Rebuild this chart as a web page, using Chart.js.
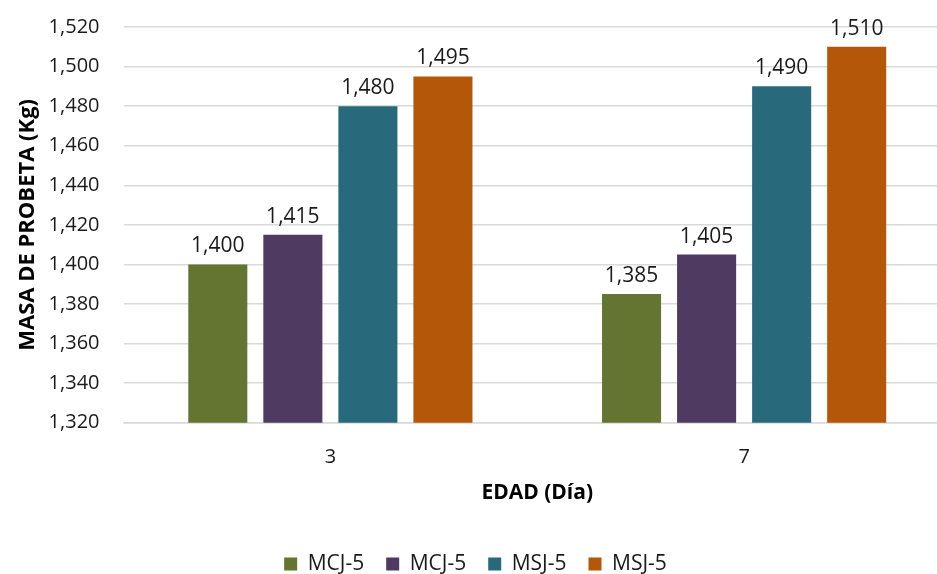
<!DOCTYPE html>
<html>
<head>
<meta charset="utf-8">
<script src="https://cdn.jsdelivr.net/npm/chart.js@4/dist/chart.umd.min.js"></script>
<style>
  html, body { margin: 0; padding: 0; background: #fff; overflow: hidden; }
  #wrap { position: relative; width: 952px; height: 574px; }
</style>
</head>
<body>
<div id="wrap"><canvas id="c"></canvas></div>
<script>
const categories = ['3', '7'];
const seriesNames = ['MCJ-5', 'MCJ-5', 'MSJ-5', 'MSJ-5'];
const seriesA = [1.400, 1.385];   // MCJ-5 (green)
const seriesB = [1.415, 1.405];   // MCJ-5 (purple)
const seriesC = [1.480, 1.490];   // MSJ-5 (teal)
const seriesD = [1.495, 1.510];   // MSJ-5 (orange)
const colors = ['#637531', '#4f3b61', '#286a7b', '#b45709'];
const yMin = 1.320, yMax = 1.520, yStep = 0.020;

const fmt = v => v.toFixed(3).replace('.', ',');
const FONT = "'Open Sans', sans-serif";

const valueLabels = {
  id: 'valueLabels',
  afterDatasetsDraw(chart) {
    const ctx = chart.ctx;
    ctx.save();
    ctx.font = "21px " + FONT;
    ctx.fillStyle = '#1a1a1a';
    ctx.textAlign = 'center';
    ctx.textBaseline = 'middle';
    chart.data.datasets.forEach((ds, i) => {
      const meta = chart.getDatasetMeta(i);
      meta.data.forEach((el, j) => {
        ctx.fillText(fmt(ds.data[j]), el.x, el.y - 18);
      });
    });
    ctx.restore();
  }
};

const allSeries = [seriesA, seriesB, seriesC, seriesD];
new Chart(document.getElementById('c'), {
  type: 'bar',
  data: {
    labels: categories,
    datasets: allSeries.map((d, i) => ({
      label: seriesNames[i],
      data: d,
      backgroundColor: colors[i],
      borderWidth: 0,
      categoryPercentage: 0.7255,
      barPercentage: 0.787
    }))
  },
  options: {
    responsive: true,
    maintainAspectRatio: false,
    animation: false,
    layout: { padding: { top: 27, left: 0, right: 1, bottom: -10.5 } },
    plugins: {
      legend: {
        position: 'bottom',
        labels: {
          font: { family: FONT, size: 21 },
          color: '#1a1a1a',
          boxWidth: 13,
          boxHeight: 13,
          padding: 22
        }
      },
      tooltip: { enabled: false }
    },
    scales: {
      x: {
        grid: { display: false, drawTicks: false },
        border: { display: true, color: '#d9d9d9', width: 1.5 },
        ticks: { font: { family: FONT, size: 20 }, color: '#1a1a1a', padding: 23 },
        title: {
          display: true,
          text: 'EDAD (Día)',
          font: { family: FONT, size: 21, weight: 'bold' },
          color: '#000',
          padding: { top: 0, bottom: 26 }
        },
        afterFit(scale) { scale.height = 108.8; }
      },
      y: {
        min: yMin,
        max: yMax,
        grid: { color: '#d9d9d9', lineWidth: 1.5, drawTicks: true, tickLength: 21, tickColor: 'rgba(0,0,0,0)' },
        border: { display: false },
        ticks: {
          stepSize: yStep,
          font: { family: FONT, size: 20 },
          color: '#1a1a1a',
          padding: 3,
          callback: v => fmt(v)
        },
        title: {
          display: true,
          text: 'MASA DE PROBETA (Kg)',
          font: { family: FONT, size: 22, weight: 'bold' },
          color: '#000',
          padding: { top: 15, bottom: 0 }
        },
        afterFit(scale) { scale.width = 123.5; }
      }
    }
  },
  plugins: [valueLabels]
});
</script>
</body>
</html>
